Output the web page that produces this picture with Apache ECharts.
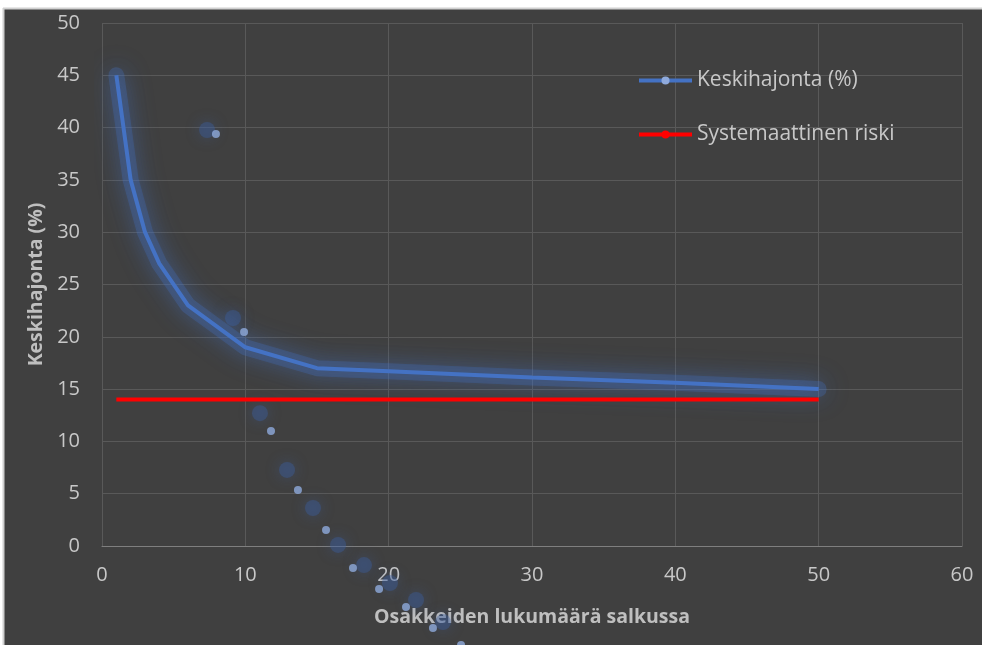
<!DOCTYPE html>
<html><head><meta charset="utf-8">
<script src="https://cdn.jsdelivr.net/npm/echarts@6/dist/echarts.min.js"></script>
<style>html,body{margin:0;padding:0;background:#fff}#c{width:982px;height:645px}</style>
</head><body><div id="c"></div>
<script>
// Data
const portfolioSize = [1, 2, 3, 4, 6, 8, 10, 15, 20, 30, 40, 50];
const stdDev = [45, 35, 30, 27, 23, 21, 19, 17, 16.7, 16.1, 15.6, 15];
const systematicX = [1, 50];
const systematicRisk = [14, 14];
// stray marker dots visible in the picture
const strayDotX = [7.95, 9.91, 11.79, 13.67, 15.63, 17.51, 19.33, 21.21, 23.09, 25.05];
const strayDotY = [39.4, 20.46, 11.0, 5.35, 1.53, -2.1, -4.1, -5.83, -7.84, -9.46];
const strayGlowX = [7.33, 9.14, 11.02, 12.91, 14.72, 16.47, 18.28, 20.09, 21.91, 23.79];
const strayGlowY = [39.77, 21.8, 12.7, 7.27, 3.63, 0.1, -1.82, -3.54, -5.16, -7.27];
const xMin = 0, xMax = 60, xStep = 10;
const yMin = 0, yMax = 50, yStep = 5;
const seriesNames = ['Keskihajonta (%)', 'Systemaattinen riski'];
const xTitle = 'Osakkeiden lukumäärä salkussa';
const yTitle = 'Keskihajonta (%)';

const zip = (a, b) => a.map((v, i) => [v, b[i]]);
const FONT = '"Open Sans", sans-serif';
const chart = echarts.init(document.getElementById('c'), null, {renderer: 'canvas'});
chart.setOption({
  backgroundColor: '#404040',
  animation: false,
  graphic: [
    {type: 'rect', shape: {x: 0, y: 0, width: 982, height: 8}, style: {fill: '#ffffff'}, silent: true},
    {type: 'rect', shape: {x: 0, y: 0, width: 3, height: 645}, style: {fill: '#ffffff'}, silent: true},
    {type: 'line', shape: {x1: 3, y1: 8.5, x2: 982, y2: 8.5}, style: {stroke: '#d0d0d0', lineWidth: 2}, silent: true},
    {type: 'line', shape: {x1: 3.5, y1: 8, x2: 3.5, y2: 645}, style: {stroke: '#d0d0d0', lineWidth: 2}, silent: true}
  ],
  grid: {left: 102, right: 20, top: 23, bottom: 99, containLabel: false},
  legend: {
    orient: 'vertical', left: 637, top: 70, padding: 0, itemWidth: 53, itemHeight: 10, itemGap: 33,
    data: [
      {name: seriesNames[0], itemStyle: {color: '#8FAADC'}},
      {name: seriesNames[1], itemStyle: {color: '#FF0000'}}
    ],
    lineStyle: {width: 4, shadowBlur: 0},
    textStyle: {color: '#C8C8C8', fontSize: 21, fontFamily: FONT}
  },
  xAxis: {
    type: 'value', min: xMin, max: xMax, interval: xStep,
    name: xTitle, nameLocation: 'middle', nameGap: 61,
    nameTextStyle: {color: '#BFBFBF', fontSize: 19.5, fontWeight: 'bold', fontFamily: FONT},
    axisLine: {show: true, lineStyle: {color: '#7F7F7F', width: 1}},
    axisTick: {show: false},
    axisLabel: {color: '#C8C8C8', fontSize: 20, fontFamily: FONT, margin: 19},
    splitLine: {show: true, lineStyle: {color: '#595959', width: 1}}
  },
  yAxis: {
    type: 'value', min: yMin, max: yMax, interval: yStep,
    name: yTitle, nameLocation: 'middle', nameGap: 56, nameRotate: 90,
    nameTextStyle: {color: '#BFBFBF', fontSize: 19.5, fontWeight: 'bold', fontFamily: FONT},
    axisLine: {show: false},
    axisTick: {show: false},
    axisLabel: {color: '#C8C8C8', fontSize: 20, fontFamily: FONT, margin: 22},
    splitLine: {show: true, lineStyle: {color: '#595959', width: 1}}
  },
  series: [
    {
      name: 'glowband', type: 'line', data: zip(portfolioSize, stdDev),
      symbol: 'none', z: 3, silent: true,
      lineStyle: {color: '#4472C4', opacity: 0.28, width: 16, cap: 'round', join: 'round',
                  shadowBlur: 26, shadowColor: '#4472C4'}
    },
    {
      name: seriesNames[0], type: 'line', data: zip(portfolioSize, stdDev),
      symbol: 'none', z: 4,
      lineStyle: {color: '#4472C4', width: 4, shadowBlur: 20, shadowColor: 'rgba(68,114,196,0.9)'},
      itemStyle: {color: '#4472C4'}
    },
    {
      name: seriesNames[1], type: 'line', data: zip(systematicX, systematicRisk),
      symbol: 'none', z: 5,
      lineStyle: {color: '#FF0000', width: 4},
      itemStyle: {color: '#FF0000'}
    },
    {
      name: 'glow', type: 'scatter', data: zip(strayGlowX, strayGlowY), clip: false,
      symbolSize: 16, z: 2, silent: true,
      itemStyle: {color: 'rgba(60,95,160,0.5)', shadowBlur: 14, shadowColor: 'rgba(60,95,160,0.9)'}
    },
    {
      name: 'dots', type: 'scatter', data: zip(strayDotX, strayDotY), clip: false,
      symbolSize: 8, z: 6, silent: true,
      itemStyle: {color: '#8FAADC'}
    }
  ]
});
</script></body></html>
